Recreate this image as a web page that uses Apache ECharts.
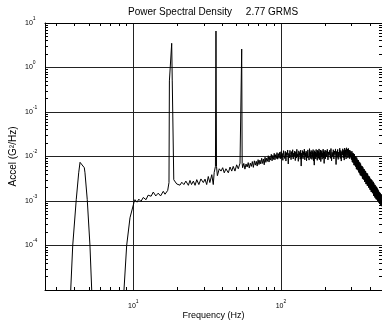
<!DOCTYPE html>
<html><head><meta charset="utf-8">
<script src="https://cdn.jsdelivr.net/npm/echarts@6/dist/echarts.min.js"></script>
<style>html,body{margin:0;padding:0;background:#fff}#c{width:382px;height:323px}</style>
</head><body><div id="c"></div>
<script>
// ---------- text ----------
const titleText = 'Power Spectral Density     2.77 GRMS';
const xName = 'Frequency (Hz)';
const yName = 'Accel (G\u00B2/Hz)';

// ---------- ticks ----------
const xMajorTicks = [10, 100];
const xMinorTicks = [3, 4, 5, 6, 7, 8, 9, 20, 30, 40, 50, 60, 70, 80, 90, 200, 300, 400];
const yMajorTicks = [1e-4, 1e-3, 1e-2, 1e-1, 1, 10];
const yMinorTicks = [
  2e-5, 3e-5, 4e-5, 5e-5, 6e-5, 7e-5, 8e-5, 9e-5,
  2e-4, 3e-4, 4e-4, 5e-4, 6e-4, 7e-4, 8e-4, 9e-4,
  0.002, 0.003, 0.004, 0.005, 0.006, 0.007, 0.008, 0.009,
  0.02, 0.03, 0.04, 0.05, 0.06, 0.07, 0.08, 0.09,
  0.2, 0.3, 0.4, 0.5, 0.6, 0.7, 0.8, 0.9,
  2, 3, 4, 5, 6, 7, 8, 9
];

// ---------- data: [frequency Hz, accel G^2/Hz] ----------
const lowPeak = [
  [3.6, 2e-6], [3.77, 1e-5], [3.89, 1e-4], [4.11, 0.00107], [4.27, 0.0043], [4.36, 0.0074],
  [4.66, 0.0056], [4.71, 0.0043], [4.88, 0.00107], [5.09, 1e-4], [5.23, 1e-5], [5.4, 2e-6]
];
const riseTo18 = [
  [8.5, 2e-6], [8.65, 1e-5], [9.02, 1e-4], [9.5, 4.2e-4], [10.1, 9.2e-4], [10.27, 0.00107],
  [10.6, 0.00094], [10.9, 0.0011], [11.27, 0.00098], [11.68, 0.0012], [12.2, 0.00107],
  [12.6, 0.00135], [13.2, 0.00128], [13.66, 0.00159], [14.2, 0.0013], [14.75, 0.0015],
  [15.3, 0.0013], [15.96, 0.00165], [16.4, 0.00142], [17.1, 0.00173], [17.45, 0.0026]
];
const spike18 = [[17.56, 0.5], [18.2, 3.5], [18.36, 0.5], [18.8, 0.003]];
const band19to35 = [
  [19.2, 0.0028], [19.7, 0.00241], [20.2, 0.00254], [20.7, 0.00227], [21.3, 0.00264],
  [22.0, 0.00234], [22.7, 0.0028], [23.6, 0.00225], [24.2, 0.0029], [24.8, 0.00234],
  [25.5, 0.0028], [26.2, 0.00225], [26.9, 0.00302], [27.8, 0.00234], [28.7, 0.00313],
  [29.8, 0.0026], [30.6, 0.0031], [31.4, 0.00234], [32.2, 0.00355], [33.0, 0.0026],
  [34.0, 0.0039], [34.8, 0.00234], [35.3, 0.0044]
];
const spike36 = [[36.0, 0.006], [36.3, 6.6], [36.6, 0.006]];
const band37to53 = [
  [37.1, 0.0037], [38.2, 0.0053], [39.3, 0.0047], [40.3, 0.0056], [41.3, 0.0043],
  [42.4, 0.0053], [44.0, 0.0043], [45.2, 0.0058], [46.4, 0.0047], [47.5, 0.006],
  [48.8, 0.0047], [50.1, 0.0065], [51.4, 0.0053], [52.8, 0.0071]
];
const spike54 = [[53.8, 0.0075], [54.2, 2.6], [54.6, 0.007]];
const band55to99 = [
  [55, 0.0056], [56, 0.0070], [57, 0.0052], [58, 0.0068], [59, 0.0058], [60, 0.0073],
  [61, 0.0055], [62, 0.0071], [63, 0.0060], [64, 0.0077], [65, 0.0057], [66, 0.0080],
  [67, 0.0064], [68, 0.0078], [69, 0.0061], [70, 0.0085], [71, 0.0066], [72, 0.0083],
  [73, 0.0068], [74, 0.0091], [75, 0.0070], [76, 0.0088], [77, 0.0065], [78, 0.0096],
  [79, 0.0074], [80, 0.0092], [81, 0.0078], [82, 0.0104], [83, 0.0075], [84, 0.0099],
  [85, 0.0083], [86, 0.0112], [87, 0.0080], [88, 0.0106], [89, 0.0086], [90, 0.0118],
  [91, 0.0084], [92, 0.0110], [93, 0.0090], [94, 0.0122], [95, 0.0087], [96, 0.0116],
  [97, 0.0092], [98, 0.0125], [99, 0.0089]
];
const band100to200 = [
  [100, 0.0128], [101, 0.0094], [102, 0.0117], [103, 0.0082], [104, 0.0135], [105, 0.0101],
  [106, 0.0090], [107, 0.0131], [108, 0.0079], [109, 0.0122], [110, 0.0106], [111, 0.0140],
  [112, 0.0068], [113, 0.0118], [114, 0.0093], [115, 0.0137], [116, 0.0110], [117, 0.0085],
  [118, 0.0129], [119, 0.0097], [120, 0.0142], [121, 0.0088], [122, 0.0120], [123, 0.0102],
  [124, 0.0133], [125, 0.0081], [126, 0.0126], [127, 0.0092], [128, 0.0145], [129, 0.0099],
  [130, 0.0115], [131, 0.0078], [132, 0.0134], [133, 0.0105], [134, 0.0124], [135, 0.0087],
  [136, 0.0139], [137, 0.0061], [138, 0.0119], [139, 0.0096], [140, 0.0136], [141, 0.0089],
  [142, 0.0128], [143, 0.0108], [144, 0.0147], [145, 0.0084], [146, 0.0121], [147, 0.0100],
  [148, 0.0132], [149, 0.0080], [150, 0.0125], [151, 0.0094], [152, 0.0141], [153, 0.0107],
  [154, 0.0118], [155, 0.0083], [156, 0.0150], [157, 0.0098], [158, 0.0127], [159, 0.0090],
  [160, 0.0137], [161, 0.0112], [162, 0.0086], [163, 0.0130], [164, 0.0095], [165, 0.0143],
  [166, 0.0079], [167, 0.0123], [168, 0.0064], [169, 0.0135], [170, 0.0101], [171, 0.0126],
  [172, 0.0088], [173, 0.0144], [174, 0.0097], [175, 0.0119], [176, 0.0082], [177, 0.0138],
  [178, 0.0104], [179, 0.0131], [180, 0.0091], [181, 0.0148], [182, 0.0085], [183, 0.0122],
  [184, 0.0109], [185, 0.0140], [186, 0.0077], [187, 0.0128], [188, 0.0099], [189, 0.0136],
  [190, 0.0087], [191, 0.0120], [192, 0.0103], [193, 0.0146], [194, 0.0092], [195, 0.0131],
  [196, 0.0070], [197, 0.0125], [198, 0.0096], [199, 0.0139], [200, 0.0089]
];
const band202to300 = [
  [202, 0.0134], [204, 0.0098], [206, 0.0145], [208, 0.0084], [210, 0.0127], [212, 0.0106],
  [214, 0.0139], [216, 0.0091], [218, 0.0151], [220, 0.0080], [222, 0.0124], [224, 0.0101],
  [226, 0.0142], [228, 0.0088], [230, 0.0133], [232, 0.0110], [234, 0.0148], [236, 0.0066],
  [238, 0.0130], [240, 0.0095], [242, 0.0144], [244, 0.0086], [246, 0.0126], [248, 0.0104],
  [250, 0.0153], [252, 0.0090], [254, 0.0137], [256, 0.0079], [258, 0.0129], [260, 0.0108],
  [262, 0.0149], [264, 0.0093], [266, 0.0138], [268, 0.0083], [270, 0.0155], [272, 0.0099],
  [274, 0.0142], [276, 0.0088], [278, 0.0157], [280, 0.0105], [282, 0.0146], [284, 0.0092],
  [286, 0.0152], [288, 0.0097], [290, 0.0140], [292, 0.0089], [294, 0.0136], [296, 0.0096],
  [298, 0.0125], [300, 0.0085]
];
const rollOff = [
  [302, 0.0132], [304, 0.0075], [306, 0.0121], [308, 0.0072], [310, 0.0117], [312, 0.0064],
  [314, 0.0113], [316, 0.0063], [318, 0.0102], [320, 0.0059], [322, 0.0099], [324, 0.0052],
  [326, 0.0094], [328, 0.0051], [330, 0.0085], [332, 0.0049], [334, 0.0083], [336, 0.0044],
  [338, 0.0076], [340, 0.0042], [342, 0.0073], [344, 0.0038], [346, 0.0069], [348, 0.0037],
  [350, 0.0062], [352, 0.0036], [354, 0.0061], [356, 0.0032], [358, 0.0058], [360, 0.0031],
  [362, 0.0053], [364, 0.0030], [366, 0.0052], [368, 0.0027], [370, 0.0048], [372, 0.0027],
  [374, 0.0047], [376, 0.0024], [378, 0.0043], [380, 0.0024], [382, 0.0042], [384, 0.0022],
  [386, 0.0041], [388, 0.0022], [390, 0.0037], [392, 0.0020], [394, 0.0036], [396, 0.0020],
  [398, 0.0035], [400, 0.0018], [402, 0.0032], [404, 0.0018], [406, 0.0031], [408, 0.0016],
  [410, 0.0030], [412, 0.0016], [414, 0.0029], [416, 0.0015], [418, 0.0026], [420, 0.0015],
  [422, 0.0027], [424, 0.0013], [426, 0.0025], [428, 0.0013], [430, 0.0023], [432, 0.0012],
  [434, 0.0023], [436, 0.0012], [438, 0.0021], [440, 0.0011], [442, 0.0021], [444, 0.0011],
  [446, 0.0020], [448, 0.00105], [450, 0.0019], [452, 0.00100], [454, 0.0018], [456, 0.00097],
  [458, 0.0017], [460, 0.00092], [462, 0.0016], [464, 0.00090], [466, 0.00155], [468, 0.00085],
  [470, 0.0015], [472, 0.00082], [474, 0.00142], [476, 0.00079], [478, 0.0014], [480, 0.00076]
];

const psd = [].concat(lowPeak, riseTo18, spike18, band19to35, spike36, band37to53,
  spike54, band55to99, band100to200, band202to300, rollOff);

// ---------- chart ----------
const FONT = '"Liberation Sans", Arial, Helvetica, sans-serif';
const X_MIN = 2.525, X_MAX = 483, Y_MIN = 1e-5, Y_MAX = 10;
const INK = '#000';
const GRIDC = '#222';

function supLabel(v) {
  const e = Math.round(Math.log10(v));
  return '{b|10}{s|' + e + '}';
}
const rich = {
  b: { fontSize: 7, lineHeight: 14, fontFamily: FONT, color: INK },
  s: { fontSize: 5, lineHeight: 6, verticalAlign: 'top', fontFamily: FONT, color: INK }
};

function borderAxis(pos, ticks, min, max) {
  return {
    type: 'log', position: pos, min: min, max: max,
    axisLine: { show: true, lineStyle: { color: INK, width: 1 } },
    axisTick: { show: true, inside: true, length: 3, customValues: ticks, lineStyle: { color: INK, width: 1 } },
    axisLabel: { show: false },
    splitLine: { show: false },
    minorTick: { show: false }, minorSplitLine: { show: false }
  };
}

const chart = echarts.init(document.getElementById('c'), null, { renderer: 'canvas' });
chart.setOption({
  animation: false,
  backgroundColor: '#fff',
  title: {
    text: titleText, left: 128, top: 7, padding: 0,
    textStyle: { fontSize: 10, fontWeight: 'normal', fontFamily: FONT, color: INK }
  },
  grid: { left: 45, right: 0, top: 23, bottom: 33, containLabel: false, outerBoundsMode: 'none' },
  xAxis: [
    borderAxis('bottom', xMinorTicks, X_MIN, X_MAX),
    borderAxis('top', xMinorTicks, X_MIN, X_MAX),
    {
      type: 'log', position: 'bottom', min: X_MIN, max: X_MAX,
      axisLine: { show: false },
      axisTick: { show: false, customValues: xMajorTicks },
      axisLabel: { show: true, customValues: xMajorTicks, formatter: supLabel, rich: rich, margin: 9 },
      splitLine: { show: true, lineStyle: { color: GRIDC, width: 1 } },
      name: xName, nameLocation: 'middle', nameGap: 21, nameMoveOverlap: false,
      nameTextStyle: { fontSize: 9, fontFamily: FONT, color: INK }
    }
  ],
  yAxis: [
    borderAxis('left', yMinorTicks, Y_MIN, Y_MAX),
    borderAxis('right', yMinorTicks, Y_MIN, Y_MAX),
    {
      type: 'log', position: 'left', min: Y_MIN, max: Y_MAX,
      axisLine: { show: false },
      axisTick: { show: false, customValues: yMajorTicks },
      axisLabel: { show: true, customValues: yMajorTicks, formatter: supLabel, rich: rich, margin: 20, align: 'left' },
      splitLine: { show: true, lineStyle: { color: GRIDC, width: 1 } },
      name: yName, nameLocation: 'middle', nameGap: 27, nameRotate: 90, nameMoveOverlap: false,
      nameTextStyle: { fontSize: 10, fontFamily: FONT, color: INK }
    }
  ],
  series: [{
    type: 'line', xAxisIndex: 2, yAxisIndex: 2,
    data: psd, symbol: 'none', showSymbol: false, clip: true, silent: true,
    lineStyle: { color: INK, width: 1 }
  }]
});
</script></body></html>
